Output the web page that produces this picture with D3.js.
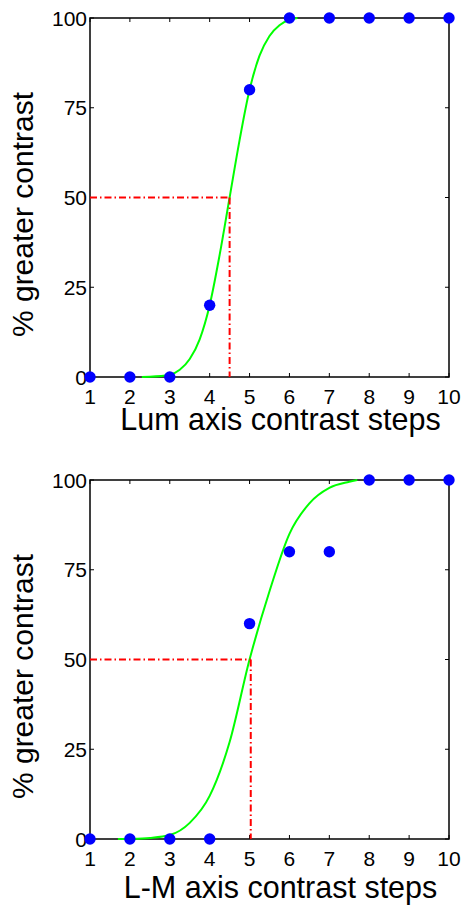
<!DOCTYPE html>
<html><head><meta charset="utf-8">
<script src="https://cdn.jsdelivr.net/npm/d3@7"></script>
<style>
html,body{margin:0;padding:0;background:#fff;}
svg{display:block;font-family:"Liberation Sans",Arial,Helvetica,sans-serif;}
</style></head>
<body>
<svg id="chart" width="465" height="905"></svg>
<script>
// ---- data ----
const steps = [1,2,3,4,5,6,7,8,9,10];
const yTicks = [0,25,50,75,100];
const lumValues = [0,0,0,20,80,100,100,100,100,100];
const lmValues  = [0,0,0,0,60,80,80,100,100,100];
// fitted curves: [x, %]
const lumFit = [[2.3,0],[2.5,0.05],[3,0.6],[3.25,2],[3.5,5],[3.75,10.5],[4,20],[4.25,34],[4.5,50],[4.75,66],[5,80],[5.25,89.5],[5.5,95],[5.75,98],[6,99.5],[6.2,100]];
const lmFit  = [[1.7,0],[2,0.05],[2.5,0.3],[3,1.1],[3.5,4.5],[4,12],[4.5,27],[5,50],[5.5,69],[6,85],[6.5,93.5],[7,97.8],[7.5,99.5],[7.7,100]];
const lumThreshold = 4.5;
const lmThreshold = 5.03;
const xLabels = ["Lum axis contrast steps","L-M axis contrast steps"];
const yLabel = "% greater contrast";

const panels = [
  {top:18, bottom:377, values:lumValues, fit:lumFit, thr:lumThreshold, xlabel:xLabels[0], xlabY:430},
  {top:480, bottom:839, values:lmValues, fit:lmFit, thr:lmThreshold, xlabel:xLabels[1], xlabY:898}
];
const left = 90, right = 449;
const svg = d3.select("#chart");

panels.forEach(p => {
  const x = d3.scaleLinear().domain([1,10]).range([left,right]);
  const y = d3.scaleLinear().domain([0,100]).range([p.bottom,p.top]);
  const g = svg.append("g");

  // ticks inside on all four sides
  const tl = 4;
  steps.forEach(s => {
    g.append("line").attr("x1",x(s)).attr("x2",x(s)).attr("y1",p.bottom).attr("y2",p.bottom-tl).attr("stroke","#000");
    g.append("line").attr("x1",x(s)).attr("x2",x(s)).attr("y1",p.top).attr("y2",p.top+tl).attr("stroke","#000");
  });
  yTicks.forEach(t => {
    g.append("line").attr("x1",left).attr("x2",left+tl).attr("y1",y(t)).attr("y2",y(t)).attr("stroke","#000");
    g.append("line").attr("x1",right).attr("x2",right-tl).attr("y1",y(t)).attr("y2",y(t)).attr("stroke","#000");
  });
  // box
  g.append("rect").attr("x",left).attr("y",p.top).attr("width",right-left).attr("height",p.bottom-p.top)
    .attr("fill","none").attr("stroke","#000").attr("stroke-width",1.5);

  // tick labels
  steps.forEach(s => {
    g.append("text").attr("x",x(s)).attr("y",p.bottom+27).attr("text-anchor","middle")
      .attr("font-size",21).attr("fill","#000").text(s);
  });
  yTicks.forEach(t => {
    g.append("text").attr("x",left-3).attr("y",y(t)).attr("dy","0.36em").attr("text-anchor","end")
      .attr("font-size",21).attr("fill","#000").text(t);
  });

  // axis labels
  g.append("text").attr("x",280.5).attr("y",p.xlabY).attr("text-anchor","middle")
    .attr("font-size",30.5).attr("fill","#000").text(p.xlabel);
  const cy = (p.top+p.bottom)/2 + 17;
  g.append("text").attr("transform",`translate(33,${cy}) rotate(-90)`).attr("text-anchor","middle")
    .attr("font-size",30).attr("fill","#000").text(yLabel);

  // fitted curve
  const line = d3.line().x(d=>x(d[0])).y(d=>y(d[1])).curve(d3.curveMonotoneX);
  g.append("path").datum(p.fit).attr("d",line).attr("fill","none").attr("stroke","#00ff00").attr("stroke-width",2);

  // threshold lines (dash-dot)
  const dash = "7,3,1.5,3";
  g.append("line").attr("x1",x(1)).attr("x2",x(p.thr)).attr("y1",y(50)).attr("y2",y(50))
    .attr("stroke","#ff0000").attr("stroke-width",2).attr("stroke-dasharray",dash);
  g.append("line").attr("x1",x(p.thr)).attr("x2",x(p.thr)).attr("y1",y(50)).attr("y2",y(0))
    .attr("stroke","#ff0000").attr("stroke-width",2).attr("stroke-dasharray",dash);

  // data points
  g.selectAll("circle.pt").data(steps.map((s,i)=>[s,p.values[i]])).enter().append("circle")
    .attr("cx",d=>x(d[0])).attr("cy",d=>y(d[1])).attr("r",5.7).attr("fill","#0000ff");
});
</script>
</body></html>
